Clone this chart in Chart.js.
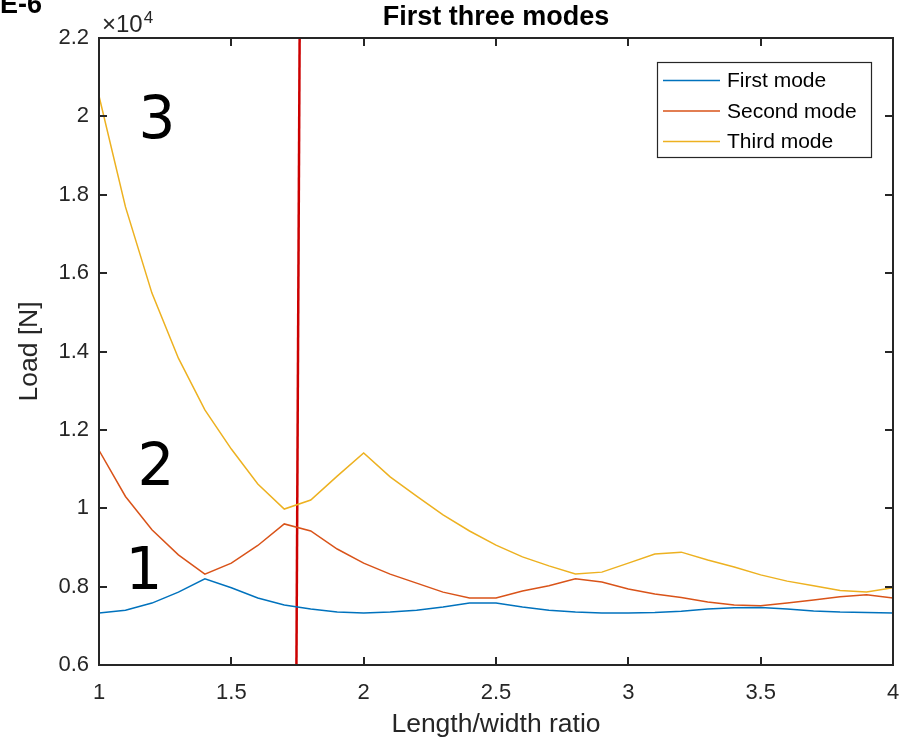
<!DOCTYPE html>
<html><head><meta charset="utf-8">
<script src="https://cdn.jsdelivr.net/npm/chart.js@4.4.0/dist/chart.umd.min.js"></script>
<style>html,body{margin:0;padding:0;background:#fff;overflow:hidden;} canvas{display:block;}</style>
</head><body>
<canvas id="c" width="910" height="745"></canvas>
<script>
// ---- data (load values in units of 1e4 N) ----
const ratios = [1.0,1.1,1.2,1.3,1.4,1.5,1.6,1.7,1.8,1.9,2.0,2.1,2.2,2.3,2.4,2.5,2.6,2.7,2.8,2.9,3.0,3.1,3.2,3.3,3.4,3.5,3.6,3.7,3.8,3.9,4.0];
const firstMode  = [0.733,0.740,0.758,0.786,0.820,0.797,0.771,0.753,0.743,0.735,0.733,0.735,0.740,0.748,0.758,0.758,0.748,0.740,0.735,0.733,0.733,0.734,0.737,0.743,0.746,0.747,0.743,0.738,0.735,0.734,0.733];
const secondMode = [1.148,1.030,0.945,0.881,0.832,0.860,0.905,0.960,0.942,0.896,0.860,0.832,0.809,0.786,0.771,0.771,0.789,0.802,0.820,0.812,0.794,0.781,0.772,0.761,0.753,0.751,0.758,0.766,0.774,0.779,0.771];
const thirdMode  = [2.052,1.769,1.549,1.383,1.251,1.151,1.062,0.998,1.021,1.082,1.141,1.080,1.031,0.983,0.942,0.906,0.876,0.853,0.832,0.837,0.860,0.883,0.888,0.868,0.850,0.830,0.814,0.802,0.790,0.786,0.797];
const seriesNames = ['First mode','Second mode','Third mode'];
const seriesColors = ['#0072BD','#D95319','#EDB120'];
const markerLineX = [1.746, 1.758];
const markerLineY = [0.6, 2.2];
const xTickValues = [1,1.5,2,2.5,3,3.5,4];
const yTickValues = [0.6,0.8,1.0,1.2,1.4,1.6,1.8,2.0,2.2];
const modeLabels = ['3','2','1'];
const modeLabelX = [1.219,1.215,1.170];
const modeLabelY = [1.998,1.114,0.849];
const chartTitle = 'First three modes';

const FONT = "'Liberation Sans', Arial, Helvetica, sans-serif";
const AXIS = '#262626';
const fmt = v => String(Number(v.toFixed(2)));

function series(vals){ return ratios.map((x,i)=>({x:x, y:vals[i]})); }

const decor = {
  id: 'decor',
  afterDraw(chart){
    const {ctx, chartArea:a, scales:{x, y}} = chart;
    ctx.save();
    // axes box
    ctx.strokeStyle = AXIS; ctx.lineWidth = 2;
    ctx.strokeRect(a.left, a.top, a.right - a.left, a.bottom - a.top);
    // inward ticks
    const tl = 8;
    ctx.beginPath();
    xTickValues.forEach(v => {
      const px = Math.round(x.getPixelForValue(v));
      ctx.moveTo(px, a.bottom); ctx.lineTo(px, a.bottom - tl);
      ctx.moveTo(px, a.top); ctx.lineTo(px, a.top + tl);
    });
    yTickValues.forEach(v => {
      const py = Math.round(y.getPixelForValue(v));
      ctx.moveTo(a.left, py); ctx.lineTo(a.left + tl, py);
      ctx.moveTo(a.right, py); ctx.lineTo(a.right - tl, py);
    });
    ctx.stroke();
    // title, centred over the axes
    ctx.fillStyle = '#000';
    ctx.textAlign = 'center'; ctx.textBaseline = 'alphabetic';
    ctx.font = 'bold 27px ' + FONT;
    ctx.fillText(chartTitle, (a.left + a.right) / 2, a.top - 13);
    // exponent label
    ctx.fillStyle = AXIS;
    ctx.textAlign = 'left';
    ctx.font = '24px ' + FONT;
    const ex = a.left + 3, ey = a.top - 6;
    ctx.fillText('\u00d710', ex, ey);
    const w = ctx.measureText('\u00d710').width;
    ctx.font = '17px ' + FONT;
    ctx.fillText('4', ex + w + 1, ey - 9);
    // E-6 tag
    ctx.fillStyle = '#000';
    ctx.font = 'bold 27px ' + FONT;
    ctx.fillText('E-6', 0, 13);
    // mode numbers
    ctx.font = '58px "DejaVu Sans", sans-serif';
    ctx.textAlign = 'center';
    modeLabels.forEach((t,i) => {
      ctx.fillText(t, x.getPixelForValue(modeLabelX[i]), y.getPixelForValue(modeLabelY[i]) + 58*0.3645);
    });
    // legend
    const lw = 214, lh = 95;
    const lx = a.right - 22 - lw, ly = a.top + 24;
    ctx.fillStyle = '#fff';
    ctx.fillRect(lx, ly, lw, lh);
    ctx.strokeStyle = AXIS; ctx.lineWidth = 1.2;
    ctx.strokeRect(lx + 0.5, ly + 0.5, lw, lh);
    ctx.font = '21px ' + FONT;
    ctx.textAlign = 'left'; ctx.textBaseline = 'middle';
    chart.data.datasets.slice(0,3).forEach((ds,i) => {
      const ry = ly + 18.5 + i * 30.5;
      ctx.strokeStyle = ds.borderColor; ctx.lineWidth = 1.5;
      ctx.beginPath(); ctx.moveTo(lx + 6, ry); ctx.lineTo(lx + 63, ry); ctx.stroke();
      ctx.fillStyle = '#000';
      ctx.fillText(ds.label, lx + 70, ry + 1);
    });
    ctx.restore();
  }
};

new Chart(document.getElementById('c'), {
  type: 'line',
  data: {
    datasets: [
      {label: seriesNames[0], data: series(firstMode),  borderColor: seriesColors[0], borderWidth: 1.5, pointRadius: 0, tension: 0, fill: false},
      {label: seriesNames[1], data: series(secondMode), borderColor: seriesColors[1], borderWidth: 1.5, pointRadius: 0, tension: 0, fill: false},
      {label: seriesNames[2], data: series(thirdMode),  borderColor: seriesColors[2], borderWidth: 1.5, pointRadius: 0, tension: 0, fill: false},
      {label: 'limit', data: markerLineX.map((v,i)=>({x:v, y:markerLineY[i]})), borderColor: '#CC0000', borderWidth: 2.5, pointRadius: 0, tension: 0, fill: false}
    ]
  },
  options: {
    responsive: false,
    animation: false,
    events: [],
    layout: {padding: {left: 0, right: 17, top: 38, bottom: 0}},
    plugins: {
      legend: {display: false},
      tooltip: {enabled: false},
      title: {display: false}
    },
    scales: {
      x: {
        type: 'linear', min: 1, max: 4,
        afterBuildTicks: s => { s.ticks = xTickValues.map(v => ({value: v})); },
        afterFit: s => { s.height = 80; s.paddingLeft = 0; s.paddingRight = 0; },
        grid: {display: false, drawTicks: false},
        border: {display: false},
        ticks: {color: AXIS, font: {family: FONT, size: 22}, padding: 15, callback: v => fmt(v), maxRotation: 0, autoSkip: false},
        title: {display: true, text: 'Length/width ratio', color: AXIS, font: {family: FONT, size: 26.5}, padding: {top: 0, bottom: 4}}
      },
      y: {
        type: 'linear', min: 0.6, max: 2.2,
        afterBuildTicks: s => { s.ticks = yTickValues.map(v => ({value: v})); },
        afterFit: s => { s.width = 99; s.paddingTop = 0; s.paddingBottom = 0; },
        grid: {display: false, drawTicks: false},
        border: {display: false},
        ticks: {color: AXIS, font: {family: FONT, size: 22}, padding: 10, callback: v => fmt(v), autoSkip: false},
        title: {display: true, text: 'Load [N]', color: AXIS, font: {family: FONT, size: 26.5}, padding: {top: 14, bottom: 0}}
      }
    }
  },
  plugins: [decor]
});
</script>
</body></html>
